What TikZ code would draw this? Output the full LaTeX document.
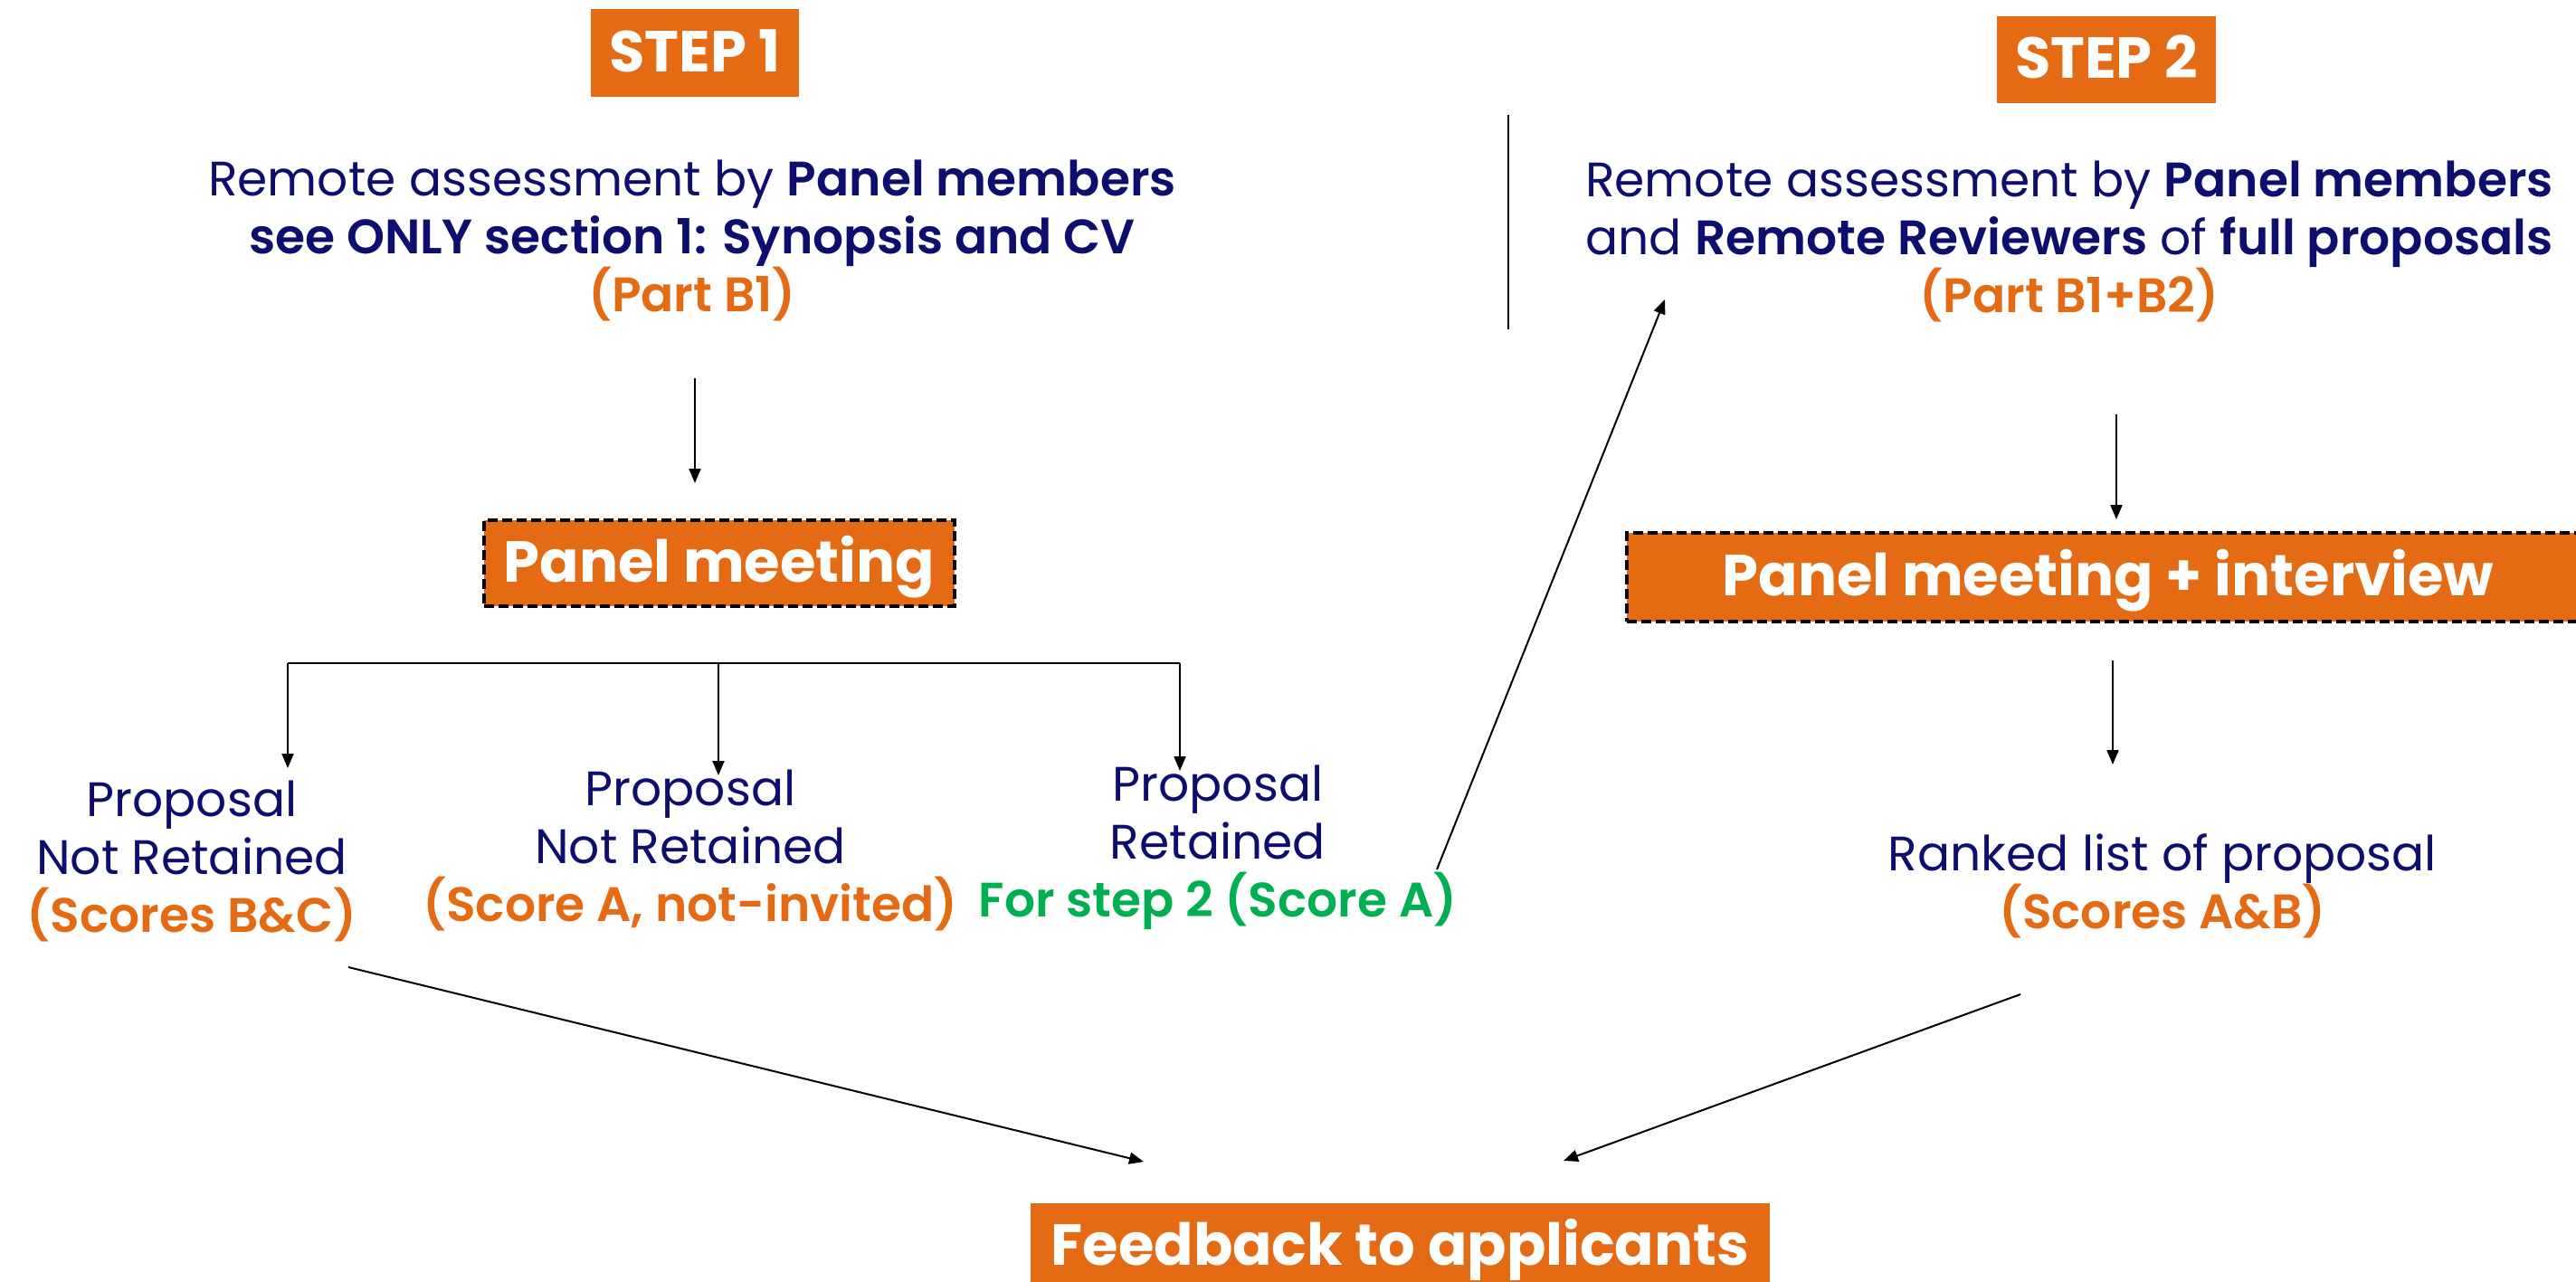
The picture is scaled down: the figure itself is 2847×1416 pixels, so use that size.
\documentclass[tikz,border=0pt]{standalone}
\usepackage{fontspec}
\setmainfont{Poppins}[BoldFont={Poppins SemiBold}]
\newfontfamily\pbold{Poppins}[UprightFont={* Bold}]
\usetikzlibrary{arrows.meta}
\definecolor{navy}{RGB}{14,14,110}
\definecolor{orng}{RGB}{228,106,20}
\definecolor{grn}{RGB}{0,176,80}
\begin{document}
\begin{tikzpicture}[x=1pt,y=-1pt,
  box/.style={fill=orng, text=white, inner sep=0pt, text height=41pt, text depth=0pt,
    font=\pbold\fontsize{64}{70}\selectfont},
  dbox/.style={box, draw=black, line width=4pt, dash pattern=on 11pt off 5pt},
  txt/.style={text=navy, align=center, inner sep=0pt, anchor=base,
    font=\fontsize{53.5}{64}\selectfont},
  arr/.style={-{Triangle[length=16pt,width=13pt]}, line width=2pt},
  ln/.style={line width=2pt}]
\useasboundingbox[fill=white] (0,0) rectangle (2847,1416);

% step labels
\node[box, minimum width=230pt, minimum height=97pt] (s1lab) at (768,58.5) {STEP 1};
\node[box, minimum width=242pt, minimum height=96pt] (s2lab) at (2328,66) {STEP 2};

% step texts (anchored at baseline of last line)
\node[txt] (s1text) at (765,344) {Remote assessment by \textbf{Panel members}\\
  \textbf{see ONLY section 1: Synopsis and CV}\\
  \textcolor{orng}{\textbf{(Part B1)}}};
\node[txt] (s2text) at (2287,345) {Remote assessment by \textbf{Panel members}\\
  and \textbf{Remote Reviewers} of \textbf{full proposals}\\
  \textcolor{orng}{\textbf{(Part B1+B2)}}};

% panel meetings
\node[dbox, minimum width=520pt, minimum height=95pt] (pm1) at (795,622.5) {Panel meeting};
\node[dbox, minimum width=1064pt, minimum height=98pt] (pm2) at (2330,638) {Panel meeting + interview};

% outcomes
\node[txt] (c1) at (212,1030) {Proposal\\Not Retained\\\textcolor{orng}{\textbf{(Scores B\&C)}}};
\node[txt] (c2) at (763,1018) {Proposal\\Not Retained\\\textcolor{orng}{\textbf{(Score A, not-invited)}}};
\node[txt] (c3) at (1346,1013) {Proposal\\Retained\\\textcolor{grn}{\textbf{For step 2 (Score A)}}};
\node[txt] (rank) at (2390,1026) {Ranked list of proposal\\\textcolor{orng}{\textbf{(Scores A\&B)}}};

% feedback
\node[box, minimum width=817pt, minimum height=95pt] (fb) at (1547.5,1377.5) {Feedback to applicants};

% arrow end points
\coordinate (s1out) at (768,418);
\coordinate (pm1in) at (768,534);
\coordinate (s2out) at (2339,458);
\coordinate (pm2in) at (2339,574);
\coordinate (pm2out) at (2335,730);
\coordinate (rankin) at (2335,845);
\coordinate (brL) at (318,733);
\coordinate (brR) at (1304,733);
\coordinate (c1in) at (318,849);
\coordinate (c2in) at (794,857);
\coordinate (c3in) at (1304,852);
\coordinate (c3out) at (1588,961);
\coordinate (s2in) at (1840,331);
\coordinate (c1out) at (385,1069);
\coordinate (fbinL) at (1264,1284);
\coordinate (rankout) at (2233,1099);
\coordinate (fbinR) at (1728,1283);
\coordinate (divT) at (1667,127);
\coordinate (divB) at (1667,364);

\draw[arr] (s1out) -- (pm1in);
\draw[arr] (s2out) -- (pm2in);
\draw[arr] (pm2out) -- (rankin);
\draw[ln] (brL) -- (brR);
\draw[arr] (brL) -- (c1in);
\draw[arr] (brL -| c2in) -- (c2in);
\draw[arr] (brR) -- (c3in);
\draw[arr] (c3out) -- (s2in);
\draw[arr] (c1out) -- (fbinL);
\draw[arr] (rankout) -- (fbinR);
\draw[ln] (divT) -- (divB);
\end{tikzpicture}
\end{document}
